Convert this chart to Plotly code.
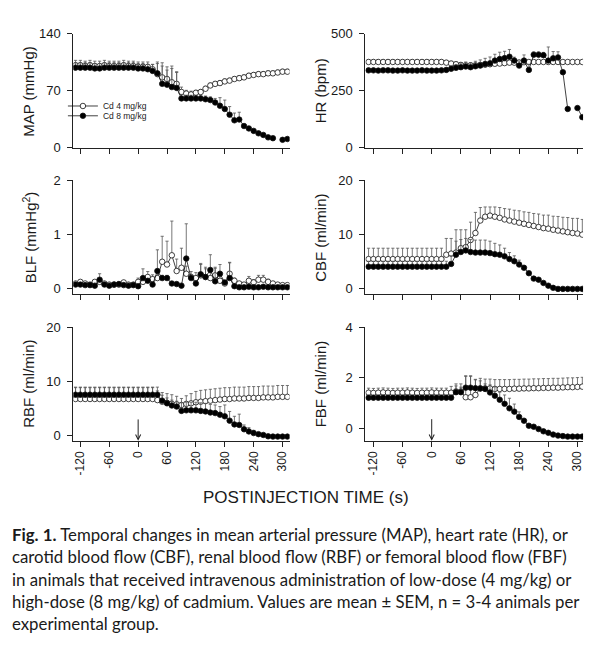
import plotly.graph_objects as go

# ---------------- data ----------------
time_s = list(range(-130, 320, 10))  # 45 time points
x_ticks = [-120, -60, 0, 60, 120, 180, 240, 300]

map_low = [101, 101, 100, 101, 100, 100, 101, 100, 100, 100, 101, 100, 100, 99, 99,
           99, 96, 90, 86, 84, 80, 78, 68, 66, 65, 67, 68, 72, 76, 78,
           79, 81, 82, 84, 85, 86, 88, 89, 90, 90, 91, 91, 92, 93, 93]
map_low_sem = [6] * 17 + [15, 18, 15, 20, 15, 6, 4, 4, 3, 3] + [3] * 18
map_high = [98, 98, 98, 98, 97, 97, 98, 98, 98, 98, 98, 98, 98, 97, 97,
            96, 94, 91, 78, 77, 74, 73, 60, 60, 60, 60, 60, 59, 58, 55,
            51, 47, 40, 33, 34, 26, 23, 20, 17, 15, 12, 11, None, 9, 10]
map_high_sem = [6] * 16 + [8, 12, 22, 18, 23, 19, 5, 4, 4, 4, 4, 4, 4, 5,
                            10, 11, 10, 9, 9, 2, 2, 2, 2, 2, 2, 2, 0, 2, 2]

hr_low = [375] * 16 + [372, 368, 365, 362, 360, 360, 360, 362, 363, 365, 367, 368, 370, 372,
                       372, 373, 374, 375, 375, 375, 375, 375, 375, 375, 375, 375, 375, 375, 375]
hr_low_sem = [10] * 30 + [6] * 6 + [0] * 9
hr_high = [338, 338, 337, 338, 338, 337, 337, 338, 337, 337, 337, 338, 337, 337, 337, 338,
           340, 345, 349, 352, 355, 352, 356, 359, 366, 369, 381, 388, 392, 398,
           381, 359, 381, 340, 407, 407, 405, 381, 391, 395, 330, 168, None, 172, 132]
hr_high_sem = [6] * 16 + [10, 12, 15, 18, 20, 20, 22, 25, 25, 28, 28, 30, 30, 32,
                          15, 20, 25, 25, 12, 12, 12, 60, 30, 25, 0, 0, 0, 0, 0]

blf_low = [0.10, 0.13, 0.10, 0.08, 0.13, 0.13, 0.10, 0.08, 0.08, 0.08, 0.12, 0.08, 0.08, 0.13, 0.13,
           0.22, 0.18, 0.20, 0.50, 0.45, 0.62, 0.33, 0.39, 0.28, 0.22, 0.20, 0.25, 0.22, 0.20, 0.25,
           0.15, 0.10, 0.28, 0.15, 0.10, 0.08, 0.15, 0.12, 0.17, 0.17, 0.13, 0.10, 0.08, 0.07, 0.07]
blf_low_sem = [0.03] * 13 + [0.07, 0.05, 0.10, 0.08, 0.10, 0.47, 0.43, 0.63, 0.22, 0.36, 0.14,
                             0.10, 0.10, 0.20, 0.15, 0.10, 0.15, 0.10, 0.05, 0.20, 0.05, 0.03,
                             0.03, 0.08, 0.05, 0.08, 0.08, 0.05, 0.03, 0.03, 0.03, 0.03]
blf_high = [0.08, 0.08, 0.07, 0.07, 0.06, 0.17, 0.08, 0.06, 0.08, 0.09, 0.07, 0.06, 0.07, 0.05, 0.20,
            0.15, 0.08, 0.33, 0.20, 0.20, 0.10, 0.09, 0.06, 0.56, 0.20, 0.10, 0.27, 0.22, 0.35, 0.14,
            0.28, 0.12, 0.20, 0.05, 0.03, 0.03, 0.04, 0.03, 0.03, 0.04, 0.03, 0.03, 0.03, 0.03, 0.03]
blf_high_sem = [0.02] * 5 + [0.11] + [0.02] * 8 + [0.17, 0.03, 0.02, 0.39, 0.05, 0.05, 0.02, 0.02,
                                                   0.02, 0.64, 0.05, 0.02, 0.20, 0.18, 0.28, 0.24,
                                                   0.17, 0.03, 0.29] + [0.02] * 12

cbf_low = [5.5] * 16 + [6.3, 6.5, 6.7, 7.5, 7.7, 9.0, 10.3, 12.6, 13.3, 13.5, 13.3, 13.1, 12.8, 12.6,
                        12.4, 12.2, 12.0, 11.8, 11.6, 11.4, 11.2, 11.1, 10.9, 10.75, 10.6, 10.45,
                        10.3, 10.2, 10.0]
cbf_low_sem = [2.0] * 16 + [3.0, 2.8, 4.2, 3.4, 3.2, 3.3, 3.8, 2.4, 1.8, 1.6, 1.8, 1.9, 2.0, 2.1,
                            2.1, 2.2, 2.2, 2.3, 2.3, 2.4, 2.4, 2.5, 2.5, 2.6, 2.6, 2.7, 2.7, 2.8, 2.8]
cbf_high = [4.1] * 17 + [4.6, 6.3, 6.8, 7.1, 6.8, 6.7, 6.7, 6.7, 6.6, 6.4, 6.3, 6.0, 5.5, 5.1,
                         4.5, 3.9, 2.9, 1.9, 1.7, 1.1, 0.6, 0.2, 0.0, 0.0, 0.0, 0.0, 0.0, 0.0]
cbf_high_sem = [1.0] * 17 + [1.5, 2.5, 2.3, 2.2, 2.3, 2.3, 2.3, 2.3, 2.2, 2.0, 1.8, 1.5, 1.2, 1.0,
                             0.8] + [0.3] * 13

rbf_low = [6.7] * 17 + [6.5, 6.2, 6.0, 5.8, 5.7, 5.6, 5.8, 5.9, 6.1, 6.2, 6.3, 6.4, 6.5, 6.6,
                        6.7, 6.7, 6.8, 6.8, 6.8, 6.9, 6.9, 6.9, 7.0, 7.0, 7.0, 7.1, 7.1, 7.1]
rbf_low_sem = [2.1] * 17 + [1.7, 1.7, 1.7, 1.7, 1.5, 1.2, 1.5, 1.8, 2.0] + [2.1] * 19
rbf_high = [7.5] * 18 + [6.4, 5.9, 5.5, 5.3, 4.5, 4.6, 4.6, 4.6, 4.5, 4.4, 4.2, 4.1, 3.8, 3.5,
                         2.7, 2.0, 1.9, 1.1, 0.7, 0.4, 0.2, 0.05, -0.2, -0.25, -0.25, -0.25, -0.25]
rbf_high_sem = [1.4] * 18 + [1.0, 1.0, 1.0, 1.0] + [1.5] * 9 + [2.1, 1.7, 1.5, 2.0, 0.8, 0.7, 0.5,
                                                                 0.3, 0, 0, 0, 0, 0, 0]

fbf_low = [1.40, 1.39, 1.40, 1.41, 1.40, 1.39, 1.40, 1.40, 1.41, 1.40, 1.39, 1.40, 1.40, 1.41,
           1.40, 1.40, 1.40, 1.40, 1.45, 1.45, 1.22, 1.22, 1.31, 1.57, 1.57, 1.57, 1.55, 1.55,
           1.55, 1.55, 1.56, 1.56, 1.57, 1.57, 1.58, 1.58, 1.59, 1.59, 1.60, 1.60, 1.61, 1.62,
           1.62, 1.63, 1.64]
fbf_low_sem = [0.18] * 17 + [0.25, 0.3, 0.3, 0.85, 0.85, 0.6, 0.4] + [0.37] * 21
fbf_high = [1.2] * 18 + [1.42, 1.42, 1.6, 1.6, 1.58, 1.57, 1.55, 1.41, 1.28, 1.12, 0.96, 0.78,
                         0.65, 0.44, 0.29, 0.09, 0.05, -0.04, -0.13, -0.19, -0.26, -0.30, -0.32,
                         -0.34, -0.34, -0.34, -0.34]
fbf_high_sem = [0.1] * 18 + [0.25, 0.2, 0.45, 0.45, 0.35, 0.3, 0.2, 0.3, 0.35, 0.3, 0.35, 0.4,
                             0.3, 0.2, 0.05] + [0.0] * 12

panels = [
    # (title, low, low_sem, high, high_sem, yrange, yticks)
    ("MAP (mmHg)", map_low, map_low_sem, map_high, map_high_sem, [-1.2, 140], [0, 70, 140]),
    ("HR (bpm)", hr_low, hr_low_sem, hr_high, hr_high_sem, [-4.3, 500], [0, 250, 500]),
    ("BLF (mmHg<sup>2</sup>)", blf_low, blf_low_sem, blf_high, blf_high_sem, [-0.1, 2], [0, 1, 2]),
    ("CBF (ml/min)", cbf_low, cbf_low_sem, cbf_high, cbf_high_sem, [-1, 20], [0, 10, 20]),
    ("RBF (ml/min)", rbf_low, rbf_low_sem, rbf_high, rbf_high_sem, [-1, 20], [0, 10, 20]),
    ("FBF (ml/min)", fbf_low, fbf_low_sem, fbf_high, fbf_high_sem, [-0.5, 4], [0, 2, 4]),
]
legend_names = ["Cd 4 mg/kg", "Cd 8 mg/kg"]

caption_lines = [
    "<b>Fig. 1.</b> Temporal changes in mean arterial pressure (MAP), heart rate (HR), or",
    "carotid blood flow (CBF), renal blood flow (RBF) or femoral blood flow (FBF)",
    "in animals that received intravenous administration of low-dose (4 mg/kg) or",
    "high-dose (8 mg/kg) of cadmium. Values are mean \u00b1 SEM, n = 3-4 animals per",
    "experimental group.",
]

# ---------------- layout geometry ----------------
W, H = 600, 650
col_px = [(65.5, 282.0), (358.0, 576.0)]
col_xrange = [[-134.5, 314.5], [-136.5, 311.5]]
row_px = [(19.0, 136.0), (169.0, 285.5), (319.0, 435.0)]
ylab_x = [21.0, 313.0]

AX_FONT = "Arial, Liberation Sans, sans-serif"
fig = go.Figure()
layout = dict(
    width=W, height=H, margin=dict(l=0, r=0, t=0, b=0),
    paper_bgcolor="white", plot_bgcolor="white",
    font=dict(family=AX_FONT, color="#1a1a1a"),
    annotations=[], showlegend=True,
)

for i, (title, lo, lo_e, hi, hi_e, yr, yt) in enumerate(panels):
    r, c = divmod(i, 2)
    n = i + 1
    xa = "x" if n == 1 else f"x{n}"
    ya = "y" if n == 1 else f"y{n}"
    x0, x1 = col_px[c]
    top, bot = row_px[r]
    layout["xaxis" if n == 1 else f"xaxis{n}"] = dict(
        domain=[x0 / W, x1 / W], range=col_xrange[c], anchor=ya,
        showline=True, linecolor="#222", linewidth=1, mirror=False,
        ticks="outside", ticklen=5, tickcolor="#222", tickwidth=1,
        tickvals=x_ticks, ticktext=[str(v) for v in x_ticks],
        showticklabels=(r == 2), tickangle=-90,
        tickfont=dict(size=12, family=AX_FONT, color="#1a1a1a"),
        showgrid=False, zeroline=False, fixedrange=True,
    )
    layout["yaxis" if n == 1 else f"yaxis{n}"] = dict(
        domain=[1 - bot / H, 1 - top / H], range=yr, anchor=xa,
        showline=True, linecolor="#222", linewidth=1, mirror=False,
        ticks="outside", ticklen=5, tickcolor="#222", tickwidth=1,
        tickvals=yt, ticktext=[str(v) for v in yt], ticklabelstandoff=4,
        tickfont=dict(size=13, family=AX_FONT, color="#1a1a1a"),
        showgrid=False, zeroline=False, fixedrange=True,
    )
    layout["annotations"].append(dict(
        text=title, textangle=-90, xref="paper", yref="paper",
        x=ylab_x[c] / W, y=1 - (top + bot) / 2 / H, xanchor="center", yanchor="middle",
        showarrow=False, font=dict(size=15, family=AX_FONT, color="#1a1a1a"),
    ))
    for s, (vals, errs, fill) in enumerate([(lo, lo_e, "white"), (hi, hi_e, "black")]):
        fig.add_trace(go.Scatter(
            x=time_s, y=vals, xaxis=xa, yaxis=ya, mode="lines+markers",
            name=legend_names[s], showlegend=(n == 1),
            legend="legend" if s == 0 else "legend2",
            line=dict(color="#111", width=0.8),
            marker=dict(symbol="circle", size=5.5, color=fill,
                        line=dict(color="#111", width=0.8)),
            error_y=dict(type="data", symmetric=False, array=errs,
                         arrayminus=[0] * len(errs), color="#555",
                         thickness=0.8, width=1.6),
            connectgaps=False,
        ))

# injection arrows at t = 0 in the bottom panels
for n, (ytop, ybot) in [(5, (3.2, -1.0)), (6, (0.41, -0.5))]:
    layout["annotations"].append(dict(
        x=0, y=ybot, ax=0, ay=ytop, xref=f"x{n}", yref=f"y{n}",
        axref=f"x{n}", ayref=f"y{n}", showarrow=True, arrowhead=5,
        arrowsize=1, arrowwidth=1, arrowcolor="#222", text="",
    ))

layout["annotations"].append(dict(
    text="POSTINJECTION TIME (s)", xref="paper", yref="paper",
    x=298 / W, y=1 - 493 / H, xanchor="center", yanchor="middle", showarrow=False,
    font=dict(size=17, family=AX_FONT, color="#1a1a1a"),
))

CAP_FONT = "Lato, Open Sans, sans-serif"
for j, line in enumerate(caption_lines):
    layout["annotations"].append(dict(
        text=line, xref="paper", yref="paper", x=2 / W, y=1 - (531 + 22.8 * j) / H,
        xanchor="left", yanchor="middle", showarrow=False, align="left",
        font=dict(size=16.8, family=CAP_FONT, color="#1a1a1a"),
    ))

leg_common = dict(bgcolor="rgba(0,0,0,0)", borderwidth=0, xanchor="left", yanchor="middle",
                  font=dict(size=8.5, family=AX_FONT, color="#1a1a1a"), itemwidth=30,
                  tracegroupgap=0)
layout["legend"] = dict(x=55 / W, y=1 - 93 / H, **leg_common)
layout["legend2"] = dict(x=55 / W, y=1 - 103 / H, **leg_common)

fig.update_layout(**layout)
fig.write_html("out.html")
